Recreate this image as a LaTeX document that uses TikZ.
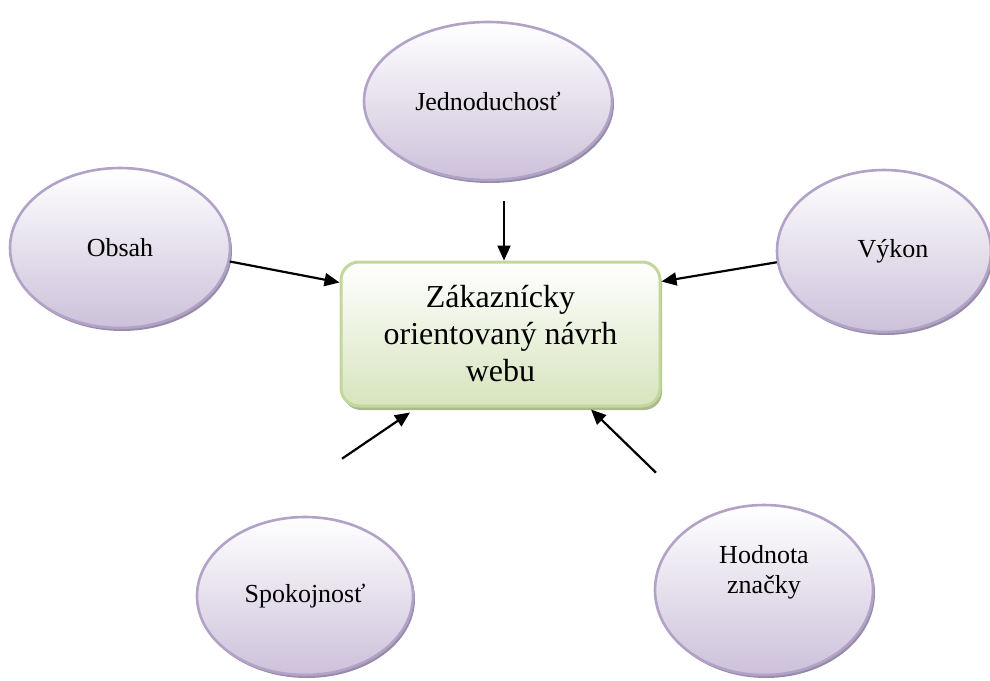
\documentclass[tikz,border=0pt]{standalone}
\usepackage{fontspec}
\setmainfont{Liberation Serif}
\usetikzlibrary{shapes.geometric,shadows,arrows.meta}

\definecolor{lavline}{RGB}{178,162,199}
\definecolor{lavfill}{RGB}{204,193,218}
\definecolor{lavshadow}{RGB}{150,140,168}
\definecolor{greenline}{RGB}{195,214,155}
\definecolor{greenfill}{RGB}{215,228,189}
\definecolor{greenshadow}{RGB}{170,186,138}

\tikzset{
  bubble/.style={ellipse, draw=lavline, line width=2.6pt,
    top color=white, bottom color=lavfill,
    drop shadow={shadow xshift=2pt, shadow yshift=-3pt, fill=lavshadow, opacity=1},
    inner sep=0pt, align=center, font=\fontsize{26}{30}\selectfont},
  hub/.style={rectangle, rounded corners=18pt, draw=greenline, line width=3pt,
    top color=white, bottom color=greenfill,
    drop shadow={shadow xshift=2pt, shadow yshift=-4pt, fill=greenshadow, opacity=1},
    minimum width=319pt, minimum height=144pt, inner sep=0pt,
    align=center, font=\fontsize{32}{37}\selectfont},
  bubbletext/.style={align=center, font=\fontsize{26}{30}\selectfont, inner sep=0pt},
  link/.style={line width=2.2pt, -{Triangle[length=15pt,width=13pt]}}
}

\begin{document}
\begin{tikzpicture}[x=1pt, y=-1pt]
  \useasboundingbox (0,0) rectangle (990,680);

  % central box
  \node[hub] (zak) at (500.5,334) {Zákaznícky\\orientovaný návrh\\webu};

  % surrounding factors
  \node[bubble, minimum width=248pt, minimum height=158pt] (jed) at (488,101) {Jednoduchosť};
  \node[bubble, minimum width=220pt, minimum height=160pt] (obs) at (120,248) {Obsah};
  \node[bubble, minimum width=214pt, minimum height=162pt] (vyk) at (884,251) {\hspace*{18pt}Výkon};
  \node[bubble, minimum width=216pt, minimum height=158pt] (spo) at (305,596) {\raisebox{0pt}{Spokojnosť}};
  \node[bubble, minimum width=218pt, minimum height=170pt] (hod) at (764,590) {};
  \node[bubbletext] (hodt) at (764,572) {Hodnota\\značky};

  % arrows into the central box
  \draw[link] ([xshift=16pt, yshift=-20pt]jed.south) -- ([xshift=3.5pt]zak.north);
  \draw[link] (obs.-7) -- ([yshift=-22pt]zak.north west);
  \draw[link] (vyk.186) -- ([yshift=-21pt]zak.north east);
  \draw[link] ([xshift=37pt, yshift=57pt]spo.north) -- ([xshift=-90.5pt, yshift=-5pt]zak.south);
  \draw[link] ([xshift=-108pt, yshift=31pt]hod.north) -- ([xshift=90.5pt, yshift=-2pt]zak.south);
\end{tikzpicture}
\end{document}
